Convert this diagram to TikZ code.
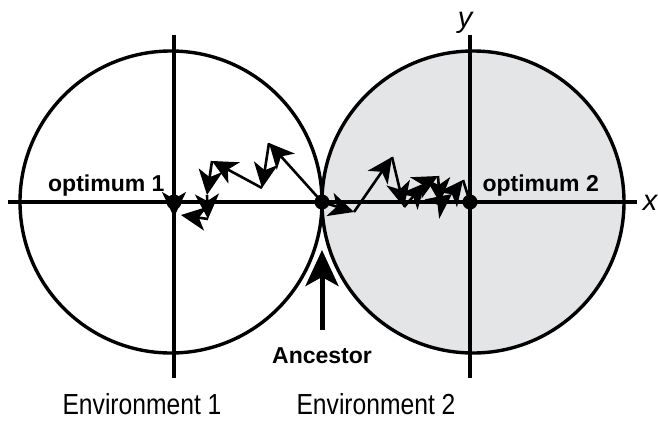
\documentclass[tikz,border=0pt]{standalone}
\usepackage{fontspec}
\setmainfont{Liberation Sans}
\usetikzlibrary{arrows.meta}
\definecolor{envgray}{HTML}{E4E5E7}
\tikzset{
  ring/.style={line width=3.4pt},
  axis/.style={line width=3.4pt},
  walk/.style={line width=2.6pt, -{Stealth[length=25pt,width=24pt,inset=7pt]}},
  dot/.style={circle, fill=black, inner sep=0pt, minimum size=15pt},
  lab/.style={font=\fontsize{23}{26}\selectfont\bfseries},
  envlab/.style={font=\fontsize{29}{32}\selectfont},
  axlab/.style={font=\fontsize{29}{32}\selectfont\itshape, inner sep=0pt},
}
\begin{document}
\begin{tikzpicture}[x=1pt,y=-1pt]
\useasboundingbox (0,0) rectangle (658,429);
% circles
\coordinate (c1) at (171,202);
\coordinate (c2) at (473,202);
\fill[envgray] (c2) circle[radius=151];
\draw[ring] (c1) circle[radius=151];
\draw[ring] (c2) circle[radius=151];
% axes
\coordinate (xl) at (8,202);
\coordinate (xr) at (637,202);
\coordinate (y1t) at (174,35);
\coordinate (y1b) at (174,378);
\coordinate (y2t) at (470,35);
\coordinate (y2b) at (470,378);
\draw[axis] (xl) -- (xr);
\draw[axis] (y1t) -- (y1b);
\draw[axis] (y2t) -- (y2b);
\node[axlab, anchor=base] (xlab) at (650,210) {x};
\node[axlab, anchor=base] (ylab) at (465,27) {y};
% points
\coordinate (anc) at (322,202);
\coordinate (o1) at (174,202);
\coordinate (o2) at (470,202);
% left walk
\coordinate (p1) at (269,143);
\coordinate (p2) at (262,188);
\coordinate (p3) at (212,161);
\coordinate (p4) at (207,195);
\coordinate (p5) at (208,219);
\coordinate (p6) at (181,215);
\coordinate (p7) at (174,217);
\draw[walk] (anc) -- (p1);
\draw[walk] (p1) -- (p2);
\draw[walk] (p2) -- (p3);
\draw[walk] (p3) -- (p4);
\draw[walk] (p4) -- (p5);
\draw[walk] (p5) -- (p6);
\draw[walk] (o1) -- (p7);
% right walk
\coordinate (q1) at (354,212);
\coordinate (q2) at (392,157);
\coordinate (q3) at (404,207);
\coordinate (q4) at (425,183);
\coordinate (q5) at (438,176);
\coordinate (q6) at (440,203);
\coordinate (q7) at (452,194);
\coordinate (q8) at (463,180);
\draw[walk] (anc) -- (q1);
\draw[walk] (q1) -- (q2);
\draw[walk] (q2) -- (q3);
\draw[walk] (q3) -- (q4);
\draw[walk] (q4) -- (q5);
\draw[walk] (q5) -- (q6);
\draw[walk] (q6) -- (q7);
\draw[walk] (q7) -- (q8);
\draw[line width=2.6pt] (q8) -- (o2);
% dots
\node[dot] (ancdot) at (anc) {};
\node[dot] (o1dot) at (o1) {};
\node[dot] (o2dot) at (o2) {};
% labels
\node[lab, anchor=east] (opt1) at (168,186) {optimum 1};
\node[lab, anchor=west] (opt2) at (479,186) {optimum 2};
% ancestor arrow
\coordinate (aTail) at (322,330);
\coordinate (aTip) at (322,250);
\draw[white, line width=9pt, -{Stealth[length=40pt,width=40pt,inset=10pt]}] (aTail) -- (aTip);
\draw[line width=5pt, -{Stealth[length=36pt,width=33pt,inset=9pt]}] (aTail) -- (aTip);
\node[lab] (ancl) at (322,356) {Ancestor};
% environment labels
\node[envlab, xscale=0.85] (env1) at (142,404) {Environment 1};
\node[envlab, xscale=0.85] (env2) at (376,404) {Environment 2};
\end{tikzpicture}
\end{document}
